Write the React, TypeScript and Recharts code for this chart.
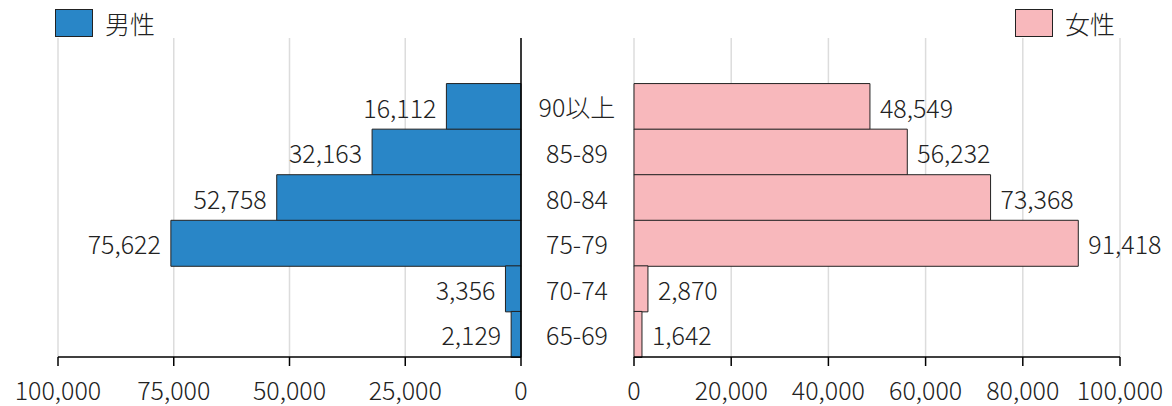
import React from 'react';
import { BarChart, Bar, XAxis, YAxis, CartesianGrid, LabelList } from 'recharts';

const ageGroups = ['', '90以上', '85-89', '80-84', '75-79', '70-74', '65-69'];
const maleValues = [null, 16112, 32163, 52758, 75622, 3356, 2129];
const femaleValues = [null, 48549, 56232, 73368, 91418, 2870, 1642];
const maleTicks = [0, 25000, 50000, 75000, 100000];
const femaleTicks = [0, 20000, 40000, 60000, 80000, 100000];

const MALE_COLOR = '#2986C7';
const FEMALE_COLOR = '#F8B8BC';
const TEXT = '#222222';
const FONT = '"Noto Sans CJK JP", "Noto Sans", sans-serif';

const data = ageGroups.map((age, i) => ({ age, male: maleValues[i], female: femaleValues[i] }));

const fmt = (v: any) => (v == null ? '' : Number(v).toLocaleString('en-US'));

function MaleLabel(props: any) {
  const { x, y, width, height, value } = props;
  if (value == null) return null;
  const left = Math.min(x, x + width);
  return (
    <text x={left - 10} y={y + height / 2} textAnchor="end" dominantBaseline="central" fill={TEXT} fontSize={25} fontWeight={300}>
      {fmt(value)}
    </text>
  );
}

function FemaleLabel(props: any) {
  const { x, y, width, height, value } = props;
  if (value == null) return null;
  const right = Math.max(x, x + width);
  return (
    <text x={right + 10} y={y + height / 2} textAnchor="start" dominantBaseline="central" fill={TEXT} fontSize={25} fontWeight={300}>
      {fmt(value)}
    </text>
  );
}

function AgeTick(props: any) {
  const { x, y, payload } = props;
  return (
    <text x={x + 56} y={y} textAnchor="middle" dominantBaseline="central" fill={TEXT} fontSize={25} fontWeight={300}>
      {payload.value}
    </text>
  );
}

function LegendItem({ left, color, label }: { left: number; color: string; label: string }) {
  return (
    <div style={{ position: 'absolute', left, top: 9, display: 'flex', alignItems: 'center' }}>
      <div style={{ width: 36, height: 26, background: color, border: '1.5px solid #222' }} />
      <span style={{ marginLeft: 12, fontSize: 25, color: TEXT, lineHeight: '28px' }}>{label}</span>
    </div>
  );
}

export default function App() {
  return (
    <div style={{ position: 'absolute', left: 0, top: 0, width: 1172, height: 406, fontFamily: FONT, fontWeight: 300, background: '#fff' }}>
      <LegendItem left={55} color={MALE_COLOR} label="男性" />
      <LegendItem left={1015} color={FEMALE_COLOR} label="女性" />

      <div style={{ position: 'absolute', left: 0, top: 0 }}>
        <BarChart
          width={634}
          height={406}
          data={data}
          layout="vertical"
          barCategoryGap={0}
          margin={{ top: 38, right: 0, bottom: 0, left: 58 }}
        >
          <CartesianGrid horizontal={false} stroke="#dcdcdc" strokeWidth={1.5} />
          <XAxis
            type="number"
            domain={[0, 100000]}
            ticks={maleTicks}
            reversed
            height={49}
            tickSize={9}
            tickMargin={16}
            tickFormatter={fmt}
            tick={{ fontSize: 25, fill: TEXT, fontWeight: 300 }}
            axisLine={{ stroke: '#000', strokeWidth: 1.5 }}
            tickLine={{ stroke: '#000', strokeWidth: 1.5 }}
            interval={0}
          />
          <YAxis
            type="category"
            dataKey="age"
            orientation="right"
            width={113}
            tickSize={0}
            tickMargin={0}
            tickLine={false}
            axisLine={{ stroke: '#000', strokeWidth: 1.5 }}
            tick={<AgeTick />}
            interval={0}
          />
          <Bar dataKey="male" fill={MALE_COLOR} stroke="#222" strokeWidth={1} isAnimationActive={false}>
            <LabelList dataKey="male" content={<MaleLabel />} />
          </Bar>
        </BarChart>
      </div>

      <div style={{ position: 'absolute', left: 600, top: 0 }}>
        <BarChart
          width={572}
          height={406}
          data={data}
          layout="vertical"
          barCategoryGap={0}
          margin={{ top: 38, right: 52, bottom: 0, left: 34 }}
        >
          <CartesianGrid horizontal={false} stroke="#dcdcdc" strokeWidth={1.5} />
          <XAxis
            type="number"
            domain={[0, 100000]}
            ticks={femaleTicks}
            height={49}
            tickSize={9}
            tickMargin={16}
            tickFormatter={fmt}
            tick={{ fontSize: 25, fill: TEXT, fontWeight: 300 }}
            axisLine={{ stroke: '#000', strokeWidth: 1.5 }}
            tickLine={{ stroke: '#000', strokeWidth: 1.5 }}
            interval={0}
          />
          <YAxis
            type="category"
            dataKey="age"
            width={0}
            tick={false}
            tickLine={false}
            axisLine={{ stroke: '#000', strokeWidth: 1.5 }}
          />
          <Bar dataKey="female" fill={FEMALE_COLOR} stroke="#222" strokeWidth={1} isAnimationActive={false}>
            <LabelList dataKey="female" content={<FemaleLabel />} />
          </Bar>
        </BarChart>
      </div>
    </div>
  );
}
